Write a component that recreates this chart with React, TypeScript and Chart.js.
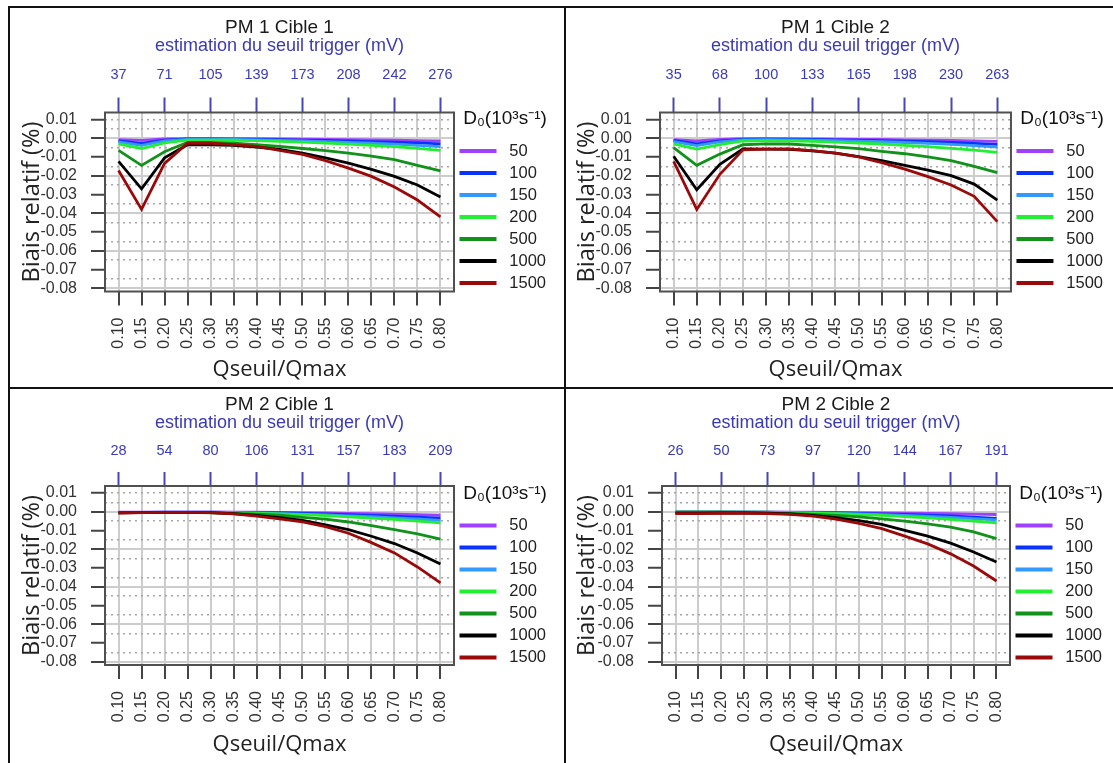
import React, { useEffect, useRef } from 'react';
import { Chart, registerables } from 'chart.js';

Chart.register(...registerables);

// ---------- data ----------
const X_VALUES = [0.1, 0.15, 0.2, 0.25, 0.3, 0.35, 0.4, 0.45, 0.5, 0.55, 0.6, 0.65, 0.7, 0.75, 0.8];
const X_LABELS = ['0.10', '0.15', '0.20', '0.25', '0.30', '0.35', '0.40', '0.45', '0.50', '0.55', '0.60', '0.65', '0.70', '0.75', '0.80'];
const TOP_TICK_X = [0.1, 0.2, 0.3, 0.4, 0.5, 0.6, 0.7, 0.8];
const Y_TICKS = [0.01, 0.005, 0, -0.005, -0.01, -0.015, -0.02, -0.025, -0.03, -0.035, -0.04, -0.045, -0.05, -0.055, -0.06, -0.065, -0.07, -0.075, -0.08];

const SERIES_NAMES = ['50', '100', '150', '200', '500', '1000', '1500'];
const SERIES_COLORS = ['#a040ff', '#0a32ff', '#3399ff', '#22ee33', '#11921a', '#000000', '#9b0a0a'];

const P1_TOP = ['37', '71', '105', '139', '173', '208', '242', '276'];
const P1_D50 = [-0.0008, -0.0012, -0.0004, -0.0002, -0.0002, -0.0002, -0.0003, -0.0004, -0.0005, -0.0006, -0.0008, -0.0009, -0.0011, -0.0013, -0.0015];
const P1_D100 = [-0.0014, -0.0028, -0.001, -0.0004, -0.0004, -0.0005, -0.0006, -0.0008, -0.001, -0.0012, -0.0015, -0.0018, -0.0021, -0.0025, -0.003];
const P1_D150 = [-0.002, -0.0038, -0.0015, -0.0006, -0.0006, -0.0007, -0.0009, -0.0012, -0.0015, -0.0018, -0.0022, -0.0027, -0.0032, -0.0038, -0.0045];
const P1_D200 = [-0.003, -0.0055, -0.0025, -0.001, -0.001, -0.0011, -0.0013, -0.0017, -0.0021, -0.0026, -0.0032, -0.0038, -0.0045, -0.0054, -0.0065];
const P1_D500 = [-0.0065, -0.0145, -0.0072, -0.0022, -0.0022, -0.0027, -0.0035, -0.0044, -0.0055, -0.0066, -0.008, -0.0096, -0.0115, -0.0145, -0.0175];
const P1_D1000 = [-0.0124, -0.027, -0.0105, -0.0035, -0.0035, -0.0038, -0.0048, -0.006, -0.008, -0.0105, -0.0133, -0.0166, -0.0204, -0.025, -0.0314];
const P1_D1500 = [-0.0172, -0.038, -0.0135, -0.0027, -0.0027, -0.0034, -0.0044, -0.0065, -0.0087, -0.012, -0.016, -0.0204, -0.026, -0.033, -0.042];

const P2_TOP = ['35', '68', '100', '133', '165', '198', '230', '263'];
const P2_D50 = [-0.0008, -0.0015, -0.0006, -0.0003, -0.0003, -0.0003, -0.0004, -0.0005, -0.0006, -0.0007, -0.0009, -0.001, -0.0012, -0.0014, -0.0017];
const P2_D100 = [-0.0012, -0.003, -0.0015, -0.0006, -0.0005, -0.0006, -0.0007, -0.0009, -0.0011, -0.0013, -0.0016, -0.0019, -0.0023, -0.0028, -0.0033];
const P2_D150 = [-0.0018, -0.004, -0.002, -0.0009, -0.0008, -0.0009, -0.001, -0.0013, -0.0016, -0.0019, -0.0023, -0.0028, -0.0033, -0.004, -0.0048];
const P2_D200 = [-0.003, -0.0058, -0.0035, -0.0015, -0.0013, -0.0014, -0.0017, -0.0021, -0.0026, -0.0031, -0.0038, -0.0045, -0.0054, -0.0064, -0.0076];
const P2_D500 = [-0.005, -0.0145, -0.0085, -0.0035, -0.003, -0.0031, -0.0038, -0.0046, -0.0056, -0.007, -0.0083, -0.01, -0.012, -0.015, -0.0184];
const P2_D1000 = [-0.0096, -0.0275, -0.014, -0.0057, -0.0058, -0.006, -0.0068, -0.008, -0.0098, -0.012, -0.0145, -0.017, -0.02, -0.0245, -0.033];
const P2_D1500 = [-0.0124, -0.038, -0.0193, -0.0062, -0.0058, -0.0057, -0.0066, -0.008, -0.01, -0.013, -0.0165, -0.0205, -0.025, -0.031, -0.0445];

const P3_TOP = ['28', '54', '80', '106', '131', '157', '183', '209'];
const P3_D50 = [-0.0003, -0.0003, -0.0002, -0.0002, -0.0002, -0.0002, -0.0003, -0.0004, -0.0005, -0.0007, -0.0009, -0.0011, -0.0013, -0.0016, -0.0019];
const P3_D100 = [-0.0004, -0.0004, -0.0003, -0.0003, -0.0003, -0.0004, -0.0005, -0.0007, -0.0009, -0.0012, -0.0016, -0.002, -0.0024, -0.0029, -0.0034];
const P3_D150 = [-0.0005, -0.0005, -0.0004, -0.0004, -0.0004, -0.0005, -0.0007, -0.001, -0.0013, -0.0017, -0.0022, -0.0027, -0.0033, -0.0039, -0.0046];
const P3_D200 = [-0.0005, -0.0005, -0.0004, -0.0004, -0.0005, -0.0006, -0.0009, -0.0012, -0.0016, -0.0021, -0.0027, -0.0034, -0.0041, -0.005, -0.006];
const P3_D500 = [-0.0005, -0.0005, -0.0004, -0.0004, -0.0006, -0.0009, -0.0013, -0.0019, -0.003, -0.004, -0.0055, -0.0075, -0.0096, -0.0118, -0.0146];
const P3_D1000 = [-0.0006, -0.0005, -0.0004, -0.0004, -0.0005, -0.001, -0.002, -0.0032, -0.0046, -0.007, -0.0096, -0.0131, -0.017, -0.022, -0.0279];
const P3_D1500 = [-0.0007, -0.0005, -0.0004, -0.0004, -0.0005, -0.0012, -0.0024, -0.0038, -0.0055, -0.008, -0.0115, -0.0165, -0.022, -0.0295, -0.038];

const P4_TOP = ['26', '50', '73', '97', '120', '144', '167', '191'];
const P4_D50 = [-0.0002, -0.0002, -0.0002, -0.0002, -0.0002, -0.0002, -0.0003, -0.0004, -0.0005, -0.0006, -0.0008, -0.0009, -0.0011, -0.0013, -0.0015];
const P4_D100 = [-0.0003, -0.0003, -0.0003, -0.0003, -0.0003, -0.0004, -0.0005, -0.0007, -0.0009, -0.0012, -0.0015, -0.0019, -0.0023, -0.0029, -0.0036];
const P4_D150 = [-0.0003, -0.0003, -0.0003, -0.0003, -0.0004, -0.0005, -0.0007, -0.0009, -0.0012, -0.0016, -0.002, -0.0025, -0.0031, -0.0037, -0.0044];
const P4_D200 = [-0.0002, -0.0002, -0.0002, -0.0002, -0.0003, -0.0005, -0.0008, -0.0011, -0.0015, -0.002, -0.0026, -0.0033, -0.0041, -0.005, -0.0059];
const P4_D500 = [-0.0003, -0.0003, -0.0003, -0.0004, -0.0006, -0.0009, -0.0014, -0.002, -0.0028, -0.0038, -0.005, -0.0065, -0.0083, -0.0108, -0.0144];
const P4_D1000 = [-0.0008, -0.0008, -0.0007, -0.0007, -0.0008, -0.0012, -0.002, -0.0032, -0.0048, -0.0068, -0.01, -0.013, -0.0168, -0.0215, -0.0268];
const P4_D1500 = [-0.001, -0.001, -0.0009, -0.0009, -0.001, -0.0014, -0.0024, -0.004, -0.0062, -0.009, -0.013, -0.0172, -0.0225, -0.029, -0.037];

// ---------- style / layout ----------
const SUBTITLE = 'estimation du seuil trigger (mV)';
const LEGEND_TITLE = 'D\u2080(10\u00B3s\u207B\u00B9)';
const X_TITLE = 'Qseuil/Qmax';
const Y_TITLE = 'Biais relatif (%)';
const FONT = "'Liberation Sans', Arial, sans-serif";
const AXIS_TITLE_FONT = "'Open Sans', 'Noto Sans', sans-serif";
const BLUE = '#3a3ab8';
const X_MIN = 0.0705;
const X_MAX = 0.8295;
const Y_MIN = -0.0818;
const Y_MAX = 0.0137;
const Y_TITLE_SIZE = 23.5;

const TOP_ROW = {
  titlePadTop: 10, subtitlePadTop: 0, topAxisH: 57.5, topTickLen: 15, topLabelPad: 13.8,
  bottomAxisH: 95.5, xTitlePadBottom: 3.8, legendTitlePadTop: 101.5, legendTitlePadBottom: 4.95,
};
const BOTTOM_ROW = {
  titlePadTop: 6.5, subtitlePadTop: 0, topAxisH: 53.5, topTickLen: 14, topLabelPad: 12.3,
  bottomAxisH: 98, xTitlePadBottom: 4.8, legendTitlePadTop: 95, legendTitlePadBottom: 4.95,
};

const PANELS = [
  { key: 'p1', title: 'PM 1 Cible 1', top: P1_TOP, series: [P1_D50, P1_D100, P1_D150, P1_D200, P1_D500, P1_D1000, P1_D1500], left: 10, y: 8, w: 554, h: 379, row: TOP_ROW, chartLeft: 95, chartRight: 444, yTitleX: 22 },
  { key: 'p2', title: 'PM 1 Cible 2', top: P2_TOP, series: [P2_D50, P2_D100, P2_D150, P2_D200, P2_D500, P2_D1000, P2_D1500], left: 566, y: 8, w: 547, h: 379, row: TOP_ROW, chartLeft: 94, chartRight: 446, yTitleX: 21.5 },
  { key: 'p3', title: 'PM 2 Cible 1', top: P3_TOP, series: [P3_D50, P3_D100, P3_D150, P3_D200, P3_D500, P3_D1000, P3_D1500], left: 10, y: 389, w: 554, h: 374, row: BOTTOM_ROW, chartLeft: 95, chartRight: 444, yTitleX: 22 },
  { key: 'p4', title: 'PM 2 Cible 2', top: P4_TOP, series: [P4_D50, P4_D100, P4_D150, P4_D200, P4_D500, P4_D1000, P4_D1500], left: 566, y: 389, w: 547, h: 374, row: BOTTOM_ROW, chartLeft: 96, chartRight: 444, yTitleX: 21.5 },
];

function yKind(v: number): string {
  const n = Math.round(v * 1000);
  if (n % 20 === 0) return 'solid';
  if (n % 10 !== 0) return 'dot';
  if (n === 10) return 'dot';
  return 'none';
}

const boxPlugin = {
  id: 'plotBox',
  beforeDatasetsDraw(chart: any) {
    const { ctx, chartArea: a } = chart;
    ctx.save();
    ctx.strokeStyle = '#505050';
    ctx.lineWidth = 2;
    ctx.strokeRect(a.left, a.top, a.right - a.left, a.bottom - a.top);
    ctx.restore();
  },
};

function Panel({ cfg }: { cfg: any }) {
  const ref = useRef<HTMLCanvasElement>(null);
  useEffect(() => {
    const canvas = ref.current;
    if (!canvas) return;
    const r = cfg.row;
    const datasets = SERIES_NAMES.map((name, i) => ({
      label: name,
      data: X_VALUES.map((x, j) => ({ x, y: cfg.series[i][j] })),
      borderColor: SERIES_COLORS[i],
      backgroundColor: SERIES_COLORS[i],
      borderWidth: 2.8,
      pointRadius: 0,
      pointHoverRadius: 0,
      tension: 0,
      fill: false,
      order: SERIES_NAMES.length - i,
    }));
    const chart: any = new Chart(canvas, {
      type: 'line',
      data: { datasets } as any,
      options: {
        animation: false,
        responsive: false,
        maintainAspectRatio: false,
        events: [],
        layout: { padding: { left: 0, top: 0, bottom: 0, right: 13 } },
        plugins: {
          tooltip: { enabled: false },
          title: {
            display: true, text: cfg.title, fullSize: false, color: '#1a1a1a',
            font: { size: 19, family: FONT, weight: 'normal', lineHeight: 1 },
            padding: { top: r.titlePadTop, bottom: 0 },
          },
          subtitle: {
            display: true, text: SUBTITLE, fullSize: false, color: BLUE,
            font: { size: 18, family: FONT, weight: 'normal', lineHeight: 1 },
            padding: { top: r.subtitlePadTop, bottom: 0 },
          },
          legend: {
            display: true, position: 'right', align: 'start',
            title: {
              display: true, text: LEGEND_TITLE, position: 'center', color: '#111',
              font: { size: 19, family: FONT, lineHeight: 1.2 },
              padding: { top: r.legendTitlePadTop, bottom: r.legendTitlePadBottom },
            },
            labels: {
              boxWidth: 37, boxHeight: 4, padding: 5.5, color: '#222',
              font: { size: 16.5, family: FONT },
              sort: (a: any, b: any) => a.datasetIndex - b.datasetIndex,
              generateLabels: (ch: any) =>
                (Chart.defaults.plugins.legend.labels.generateLabels as any)(ch).map((l: any) => ({
                  ...l, lineWidth: 0, text: ' ' + l.text,
                })),
            },
          },
        },
        scales: {
          x: {
            type: 'linear', position: 'bottom', min: X_MIN, max: X_MAX, bounds: 'data',
            afterBuildTicks: (s: any) => { s.ticks = X_VALUES.map((v) => ({ value: v })); },
            afterFit: (s: any) => { s.height = r.bottomAxisH; },
            ticks: {
              autoSkip: false, minRotation: 90, maxRotation: 90, padding: 12, color: '#333',
              font: { size: 16, family: FONT },
              callback: (_v: any, i: number) => X_LABELS[i],
            },
            grid: { color: '#cccccc', lineWidth: 2, tickColor: '#444', tickWidth: 2, tickLength: 14, drawOnChartArea: true },
            border: { display: false },
            title: {
              display: true, text: X_TITLE, color: '#222',
              font: { size: 22, family: AXIS_TITLE_FONT, lineHeight: 1.2 },
              padding: { top: 0, bottom: r.xTitlePadBottom },
            },
          },
          xTop: {
            type: 'linear', position: 'top', min: X_MIN, max: X_MAX, bounds: 'data',
            afterBuildTicks: (s: any) => { s.ticks = TOP_TICK_X.map((v) => ({ value: v })); },
            afterFit: (s: any) => { s.height = r.topAxisH; },
            ticks: {
              autoSkip: false, maxRotation: 0, minRotation: 0, padding: r.topLabelPad, color: BLUE,
              font: { size: 14.5, family: FONT },
              callback: (_v: any, i: number) => cfg.top[i],
            },
            grid: { drawOnChartArea: false, color: 'rgba(0,0,0,0)', tickColor: '#4646b4', tickWidth: 2, tickLength: r.topTickLen },
            border: { display: false },
          },
          y: {
            type: 'linear', position: 'left', min: Y_MIN, max: Y_MAX, bounds: 'data',
            afterBuildTicks: (s: any) => { s.ticks = Y_TICKS.map((v) => ({ value: v })); },
            afterFit: (s: any) => { s.width = cfg.chartLeft; },
            ticks: {
              autoSkip: false, padding: 14, color: '#333',
              font: { size: 16, family: FONT },
              callback: (v: any) => {
                const n = Math.round(Number(v) * 1000);
                if (n % 10 !== 0) return '';
                const s = (n / 1000).toFixed(2);
                return s === '-0.00' ? '0.00' : s;
              },
            },
            grid: {
              color: (c: any) => {
                if (!c.tick) return 'rgba(0,0,0,0)';
                const k = yKind(c.tick.value);
                return k === 'solid' ? '#cdcdcd' : k === 'dot' ? '#a6a6a6' : 'rgba(0,0,0,0)';
              },
              lineWidth: (c: any) => {
                if (!c.tick) return 1;
                const k = yKind(c.tick.value);
                return k === 'solid' ? 2 : 1.5;
              },
              tickColor: (c: any) => {
                if (!c.tick) return 'rgba(0,0,0,0)';
                const n = Math.round(c.tick.value * 1000);
                return n % 10 === 0 ? '#444' : 'rgba(0,0,0,0)';
              },
              tickWidth: 2,
              tickLength: 14,
            },
            border: {
              display: false,
              dash: (c: any) => (c.tick && yKind(c.tick.value) === 'dot' ? [2, 4] : []),
            },
            title: {
              display: true, text: Y_TITLE, color: '#222',
              font: { size: Y_TITLE_SIZE, family: AXIS_TITLE_FONT, lineHeight: 1.2 },
              padding: { top: cfg.yTitleX - Y_TITLE_SIZE * 0.6, bottom: 0 },
            },
          },
        },
      } as any,
      plugins: [boxPlugin],
    });
    const lw = chart.legend ? chart.legend.width : 97;
    chart.options.layout.padding = { left: 0, top: 0, bottom: 0, right: Math.max(0, cfg.w - cfg.chartRight - lw) };
    chart.update();
    return () => chart.destroy();
  }, [cfg]);
  return (
    <canvas
      ref={ref}
      width={cfg.w}
      height={cfg.h}
      style={{ position: 'absolute', left: cfg.left, top: cfg.y, width: cfg.w, height: cfg.h, display: 'block' }}
    />
  );
}

export default function App() {
  const line = (l: number, t: number, w: number, h: number) => (
    <div style={{ position: 'absolute', left: l, top: t, width: w, height: h, background: '#111' }} />
  );
  return (
    <div style={{ position: 'absolute', left: 0, top: 0, width: 1113, height: 763, background: '#fff', overflow: 'hidden' }}>
      {PANELS.map((p) => (
        <Panel key={p.key} cfg={p} />
      ))}
      {line(8, 6, 1105, 2)}
      {line(8, 6, 2, 757)}
      {line(564, 6, 2, 757)}
      {line(8, 387, 1105, 2)}
    </div>
  );
}
